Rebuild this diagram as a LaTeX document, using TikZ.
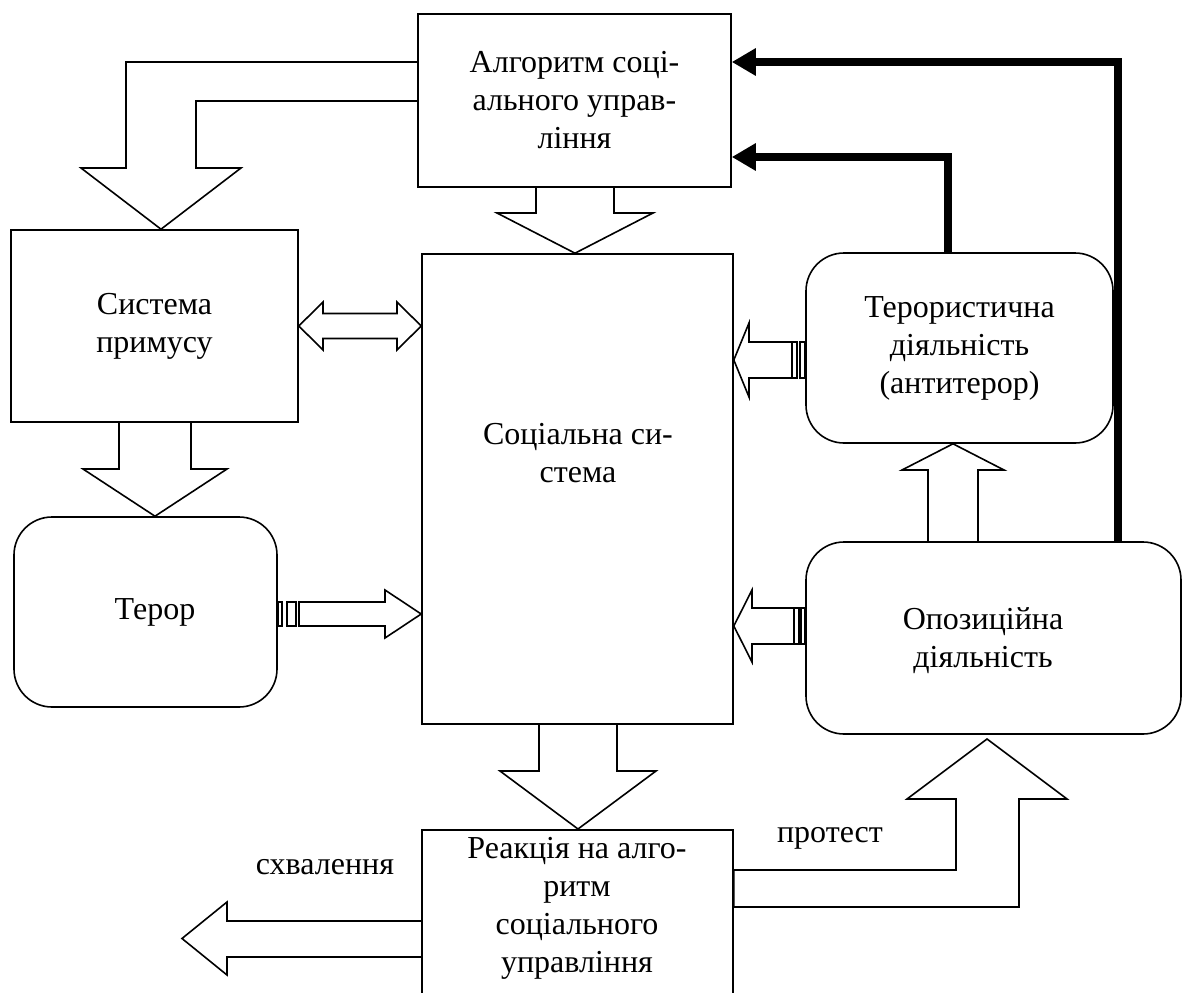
\documentclass[tikz,border=0pt]{standalone}
\usepackage{fontspec}
\setmainfont{Liberation Serif}
\usetikzlibrary{arrows.meta}
\newcommand{\boxfont}{\fontsize{32}{38}\selectfont}

\begin{document}
\begin{tikzpicture}[x=1pt, y=-1pt,
    box/.style={rectangle, draw, line width=1.6pt, align=center, font=\boxfont},
    rbox/.style={box, rounded corners=38pt},
    txt/.style={align=center, font=\boxfont},
    fat/.style={draw, line width=1.6pt, line join=miter},
    fb/.style={line width=8pt, line join=miter, -{Triangle[length=24pt, width=26pt]}}
]
\useasboundingbox (0,0) rectangle (1184,993);
\clip (0,0) rectangle (1184,993);

% Left column
\node[box, minimum width=313pt, minimum height=173pt] (alg) at (574.5,100.5) {Алгоритм соці-\\ального управ-\\ління};
\node[box, minimum width=287pt, minimum height=192pt] (prim) at (154.5,326) {Система\\примусу};
\node[rbox, minimum width=263pt, minimum height=190pt] (teror) at (145.5,612) {};
\node[txt] (terortxt) at (155,612) {Терор};

% Middle column
\node[box, minimum width=311pt, minimum height=470pt] (soc) at (577.5,489) {};
\node[txt] (soctxt) at (578,453) {Соціальна си-\\стема};
\node[box, anchor=north, minimum width=311pt, minimum height=220pt] (reak) at (577.5,829) {};
\node[txt] (reaktxt) at (577,908) {Реакція на алго-\\ритм\\соціального\\управління};

% Right column
\node[rbox, minimum width=307pt, minimum height=190pt] (ter) at (959.5,348) {Терористична\\діяльність\\(антитерор)};
\node[rbox, minimum width=375pt, minimum height=192pt] (opp) at (993.5,638) {};
\node[txt] (opptxt) at (983,641) {Опозиційна\\діяльність};

% Block arrows - from the algorithm
\draw[fat] (alg.west |- 0,62) -- (126,62) -- (126,168) -- (81,168) -- (prim.north -| 161,0)
    -- (241,168) -- (196,168) -- (196,101) -- (alg.west |- 0,101);
\draw[fat] (alg.south -| 536,0) -- (536,213) -- (497,213) -- (soc.north -| 575,0)
    -- (653,213) -- (614,213) -- (alg.south -| 614,0);

% Block arrows - left side
\draw[fat] (prim.east |- 0,326) -- (323,302) -- (323,313.5) -- (397,313.5) -- (397,302)
    -- (soc.west |- 0,326) -- (397,350) -- (397,338.5) -- (323,338.5) -- (323,350) -- cycle;
\draw[fat] (prim.south -| 119,0) -- (119,469) -- (83,469) -- (teror.north -| 155,0)
    -- (227,469) -- (191,469) -- (prim.south -| 191,0);
\draw[fat] (278,602) rectangle (282,626);
\draw[fat] (287,602) rectangle (296,626);
\draw[fat] (299,602) -- (385,602) -- (385,590) -- (soc.west |- 0,614) -- (385,638) -- (385,626) -- (299,626) -- cycle;

% Block arrows - right side
\draw[fat] (soc.east |- 0,360) -- (749,323) -- (749,342) -- (792,342) -- (792,378) -- (749,378) -- (749,397) -- cycle;
\draw[fat] (792,342) rectangle (797,378);
\draw[fat] (800,342) rectangle (805,378);
\draw[fat] (soc.east |- 0,626) -- (752,590) -- (752,608) -- (794,608) -- (794,644) -- (752,644) -- (752,662) -- cycle;
\draw[fat] (794,608) rectangle (799,644);
\draw[fat] (801,608) rectangle (805,644);
\draw[fat] (opp.north -| 928,0) -- (928,470) -- (902,470) -- (ter.south -| 953,0) -- (1004,470) -- (978,470) -- (opp.north -| 978,0);

% Feedback lines
\draw[fb] (opp.north -| 1118,0) |- (alg.east |- 0,62);
\draw[fb] (ter.north -| 948,0) |- (alg.east |- 0,157);

% Block arrows - bottom
\draw[fat] (soc.south -| 539,0) -- (539,771) -- (500,771) -- (reak.north -| 578,0)
    -- (656,771) -- (617,771) -- (soc.south -| 617,0);
\draw[fat] (reak.west |- 0,921) -- (227,921) -- (227,902) -- (182,938.5) -- (227,975) -- (227,957) -- (reak.west |- 0,957);
\node[txt] (approve) at (325,867) {схвалення};
\draw[fat] (reak.east |- 0,870) -- (956,870) -- (956,799) -- (907,799) -- (987,739) -- (1067,799)
    -- (1019,799) -- (1019,907) -- (reak.east |- 0,907) -- cycle;
\node[txt] (protest) at (830,838) {протест};

\end{tikzpicture}
\end{document}
